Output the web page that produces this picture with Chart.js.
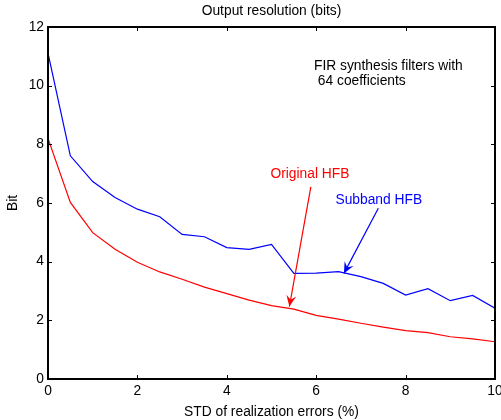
<!DOCTYPE html>
<html lang="en">
<head>
  <meta charset="UTF-8">
  <title>Output resolution (bits)</title>
  <script src="https://cdn.jsdelivr.net/npm/chart.js"></script>
  <style>
    html, body {
      margin: 0;
      padding: 0;
      background: #fff;
    }
    #wrap {
      width: 501px;
      height: 420px;
    }
  </style>
</head>
<body>

<div id="wrap">
  <canvas id="grafico" width="501" height="420"></canvas>
</div>

<script>
  // STD of realization errors (%)
  const stdErro = [0, 0.5, 1, 1.5, 2, 2.5, 3, 3.5, 4, 4.5, 5, 5.5, 6, 6.5, 7, 7.5, 8, 8.5, 9, 9.5, 10];
  const originalHFB = [8.20, 6.02, 4.99, 4.42, 3.98, 3.65, 3.40, 3.13, 2.91, 2.69, 2.50, 2.38, 2.17, 2.04, 1.90, 1.77, 1.65, 1.58, 1.44, 1.37, 1.27];
  const subbandHFB = [11.11, 7.61, 6.73, 6.19, 5.79, 5.53, 4.93, 4.85, 4.48, 4.42, 4.59, 3.60, 3.61, 3.66, 3.49, 3.26, 2.86, 3.08, 2.67, 2.85, 2.41];

  const xTicks = [0, 2, 4, 6, 8, 10];
  const yTicks = [0, 2, 4, 6, 8, 10, 12];

  // annotations (data coordinates)
  const textos = [
    { text: "FIR synthesis filters with", x: 5.95, y: 10.65, color: "#000", align: "left" },
    { text: " 64 coefficients", x: 5.95, y: 10.14, color: "#000", align: "left" },
    { text: "Original HFB", x: 5.86, y: 6.99, color: "#ff0000", align: "center" },
    { text: "Subband HFB", x: 7.40, y: 6.10, color: "#0000ff", align: "center" }
  ];
  const setas = [
    { from: [5.88, 6.55], to: [5.40, 2.47], color: "#ff0000" },
    { from: [7.39, 5.82], to: [6.62, 3.60], color: "#0000ff" }
  ];

  const FAMILIA = "'Liberation Sans', Arial, sans-serif";
  const TAM = 13.8;
  const FONTE = TAM + "px " + FAMILIA;

  const molduraPlugin = {
    id: "moldura",
    afterDraw(chart) {
      const ctx = chart.ctx;
      const a = chart.chartArea;
      const sx = chart.scales.x;
      const sy = chart.scales.y;
      ctx.save();

      // inward ticks on all four sides
      const len = 4;
      ctx.strokeStyle = "#000";
      ctx.lineWidth = 1;
      ctx.beginPath();
      xTicks.forEach(v => {
        const px = Math.round(sx.getPixelForValue(v)) + 0.5;
        ctx.moveTo(px, a.bottom); ctx.lineTo(px, a.bottom - len);
        ctx.moveTo(px, a.top); ctx.lineTo(px, a.top + len);
      });
      yTicks.forEach(v => {
        const py = Math.round(sy.getPixelForValue(v)) + 0.5;
        ctx.moveTo(a.left, py); ctx.lineTo(a.left + len, py);
        ctx.moveTo(a.right, py); ctx.lineTo(a.right - len, py);
      });
      ctx.stroke();

      ctx.lineWidth = 2;
      ctx.strokeRect(Math.round(a.left), Math.round(a.top),
        Math.round(a.right - a.left), Math.round(a.bottom - a.top));

      // title
      ctx.fillStyle = "#000";
      ctx.font = FONTE;
      ctx.textAlign = "center";
      ctx.textBaseline = "middle";
      ctx.fillText("Output resolution (bits)", (a.left + a.right) / 2, 11);

      // texts
      textos.forEach(t => {
        ctx.fillStyle = t.color;
        ctx.textAlign = t.align;
        ctx.fillText(t.text, sx.getPixelForValue(t.x), sy.getPixelForValue(t.y));
      });

      // arrows
      setas.forEach(s => {
        const x1 = sx.getPixelForValue(s.from[0]);
        const y1 = sy.getPixelForValue(s.from[1]);
        const x2 = sx.getPixelForValue(s.to[0]);
        const y2 = sy.getPixelForValue(s.to[1]);
        const ang = Math.atan2(y2 - y1, x2 - x1);
        ctx.strokeStyle = s.color;
        ctx.fillStyle = s.color;
        ctx.lineWidth = 1.2;
        ctx.beginPath();
        ctx.moveTo(x1, y1);
        ctx.lineTo(x2, y2);
        ctx.stroke();
        const L = 11, W = 5, N = 7;
        const ca = Math.cos(ang), sa = Math.sin(ang);
        ctx.beginPath();
        ctx.moveTo(x2, y2);
        ctx.lineTo(x2 - L * ca - W * sa, y2 - L * sa + W * ca);
        ctx.lineTo(x2 - N * ca, y2 - N * sa);
        ctx.lineTo(x2 - L * ca + W * sa, y2 - L * sa - W * ca);
        ctx.closePath();
        ctx.fill();
      });
      ctx.restore();
    }
  };

  const ctx = document.getElementById("grafico").getContext("2d");

  const chart = new Chart(ctx, {
    type: "line",
    data: {
      datasets: [
        {
          label: "Subband HFB",
          data: stdErro.map((x, i) => ({ x, y: subbandHFB[i] })),
          borderColor: "#0000ff",
          borderWidth: 1.2,
          pointRadius: 0,
          tension: 0
        },
        {
          label: "Original HFB",
          data: stdErro.map((x, i) => ({ x, y: originalHFB[i] })),
          borderColor: "#ff0000",
          borderWidth: 1.2,
          pointRadius: 0,
          tension: 0
        }
      ]
    },
    options: {
      responsive: false,
      animation: false,
      layout: { padding: { top: 27, right: 6, left: 0, bottom: 0 } },
      plugins: {
        legend: { display: false },
        tooltip: { enabled: false }
      },
      scales: {
        x: {
          type: "linear",
          min: 0,
          max: 10,
          afterBuildTicks: s => { s.ticks = xTicks.map(v => ({ value: v })); },
          afterFit: s => { s.height = 41; s.paddingLeft = 0; s.paddingRight = 0; },
          grid: { display: false, drawTicks: false },
          border: { display: false },
          ticks: {
            color: "#000",
            padding: 4,
            maxRotation: 0,
            font: { family: FAMILIA, size: TAM }
          },
          title: {
            display: true,
            text: "STD of realization errors (%)",
            color: "#000",
            padding: { top: -2, bottom: 0 },
            font: { family: FAMILIA, size: TAM }
          }
        },
        y: {
          type: "linear",
          min: 0,
          max: 12,
          afterBuildTicks: s => { s.ticks = yTicks.map(v => ({ value: v })); },
          afterFit: s => { s.width = 48; s.paddingTop = 0; s.paddingBottom = 0; },
          grid: { display: false, drawTicks: false },
          border: { display: false },
          ticks: {
            color: "#000",
            padding: 4,
            font: { family: FAMILIA, size: TAM }
          },
          title: {
            display: true,
            text: "Bit",
            color: "#000",
            padding: { top: 5, bottom: 0 },
            font: { family: FAMILIA, size: TAM }
          }
        }
      }
    },
    plugins: [molduraPlugin]
  });
</script>

</body>
</html>
